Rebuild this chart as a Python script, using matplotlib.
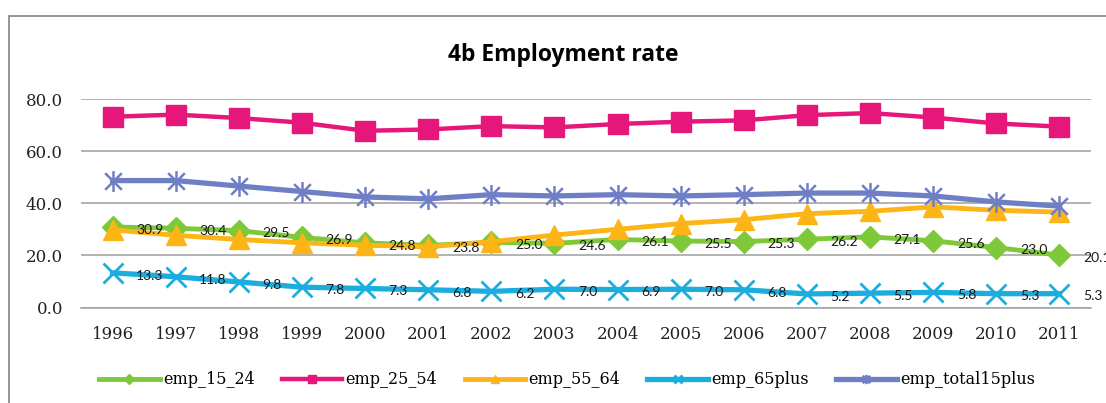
import numpy as np
import matplotlib
matplotlib.use("Agg")
import matplotlib.pyplot as plt
from matplotlib.path import Path
from matplotlib.patches import Rectangle

years = [str(y) for y in range(1996, 2012)]

emp_15_24 = [30.9, 30.4, 29.5, 26.9, 24.8, 23.8, 25.0, 24.6,
             26.1, 25.5, 25.3, 26.2, 27.1, 25.6, 23.0, 20.1]
emp_25_54 = [73.2, 74.0, 72.7, 70.9, 67.8, 68.3, 69.6, 69.1,
             70.4, 71.3, 71.8, 73.8, 74.6, 72.9, 70.6, 69.4]
emp_55_64 = [29.8, 27.7, 26.1, 24.8, 23.9, 23.3, 25.2, 27.8,
             30.0, 32.2, 33.7, 36.0, 36.9, 38.6, 37.3, 36.6]
emp_65plus = [13.3, 11.8, 9.8, 7.8, 7.3, 6.8, 6.2, 7.0,
              6.9, 7.0, 6.8, 5.2, 5.5, 5.8, 5.3, 5.3]
emp_total15plus = [48.7, 48.7, 46.6, 44.5, 42.4, 41.7, 43.3, 42.8,
                   43.3, 42.8, 43.3, 43.9, 43.9, 42.8, 40.5, 38.9]

# Excel style "star" marker: an x with a vertical bar through it
star = Path([(0, -1), (0, 1), (-0.8, -0.8), (0.8, 0.8), (-0.8, 0.8), (0.8, -0.8)],
            [Path.MOVETO, Path.LINETO, Path.MOVETO, Path.LINETO, Path.MOVETO, Path.LINETO])

serif = "DejaVu Serif"

fig = plt.figure(figsize=(11.06, 4.03), dpi=100)
fig.patches.append(Rectangle((9 / 1106, -0.1), 1.2, (403 - 16) / 403 + 0.1,
                             transform=fig.transFigure, fill=False,
                             edgecolor="#8c8c8c", linewidth=1.3))

ax = fig.add_axes([81 / 1106, (403 - 307.5) / 403, 1010 / 1106, 208.5 / 403])
x = np.arange(len(years))

ax.plot(x, emp_15_24, color="#7dc93a", lw=3.5, marker="D", ms=11,
        label="emp_15_24", zorder=3)
ax.plot(x, emp_25_54, color="#e6177a", lw=3.2, marker="s", ms=14,
        label="emp_25_54", zorder=3)
ax.plot(x, emp_55_64, color="#fdb515", lw=3.5, marker="^", ms=14,
        label="emp_55_64", zorder=3)
ax.plot(x, emp_65plus, color="#1badde", lw=3.8, marker="x", ms=14, mew=2,
        label="emp_65plus", zorder=3)
ax.plot(x, emp_total15plus, color="#6f7fc6", lw=3.8, marker=star, ms=15, mew=1.8,
        fillstyle="none", label="emp_total15plus", zorder=3)

for xi, v in zip(x, emp_15_24):
    ax.annotate(f"{v:.1f}", (xi, v), xytext=(17, -2), textcoords="offset points",
                ha="left", va="center", fontsize=10, family="Lato", color="#1a1a1a")
for xi, v in zip(x, emp_65plus):
    ax.annotate(f"{v:.1f}", (xi, v), xytext=(17, -2), textcoords="offset points",
                ha="left", va="center", fontsize=10, family="Lato", color="#1a1a1a")

ax.set_xlim(-0.5, len(years) - 0.5)
ax.set_ylim(0, 80)
ax.set_yticks([0, 20, 40, 60, 80])
ax.set_yticklabels([f"{t:.1f}" for t in [0, 20, 40, 60, 80]])
ax.set_xticks(x)
ax.set_xticklabels(years)
ax.tick_params(length=0, labelsize=12, colors="#222222")
ax.tick_params(axis="y", pad=13)
ax.tick_params(axis="x", pad=13)
for lab in ax.get_xticklabels() + ax.get_yticklabels():
    lab.set_family(serif)
ax.grid(axis="y", color="#a6a6a6", lw=1.2)
ax.set_axisbelow(True)
for s in ax.spines.values():
    s.set_visible(False)
ax.spines["bottom"].set_visible(True)
ax.spines["bottom"].set_color("#a6a6a6")
ax.spines["bottom"].set_linewidth(1.2)

fig.text(563 / 1106, 1 - 55 / 403, "4b Employment rate", ha="center", va="center",
         fontsize=16.5, fontweight="bold", family="Open Sans")

leg = fig.legend(loc="center", bbox_to_anchor=(567 / 1106, 1 - 380 / 403), ncol=5,
                 frameon=False, prop={"family": serif, "size": 11.5},
                 handlelength=3.8, handletextpad=0.2, columnspacing=1.7,
                 markerscale=0.45)

fig.savefig("out.png", dpi=100)
